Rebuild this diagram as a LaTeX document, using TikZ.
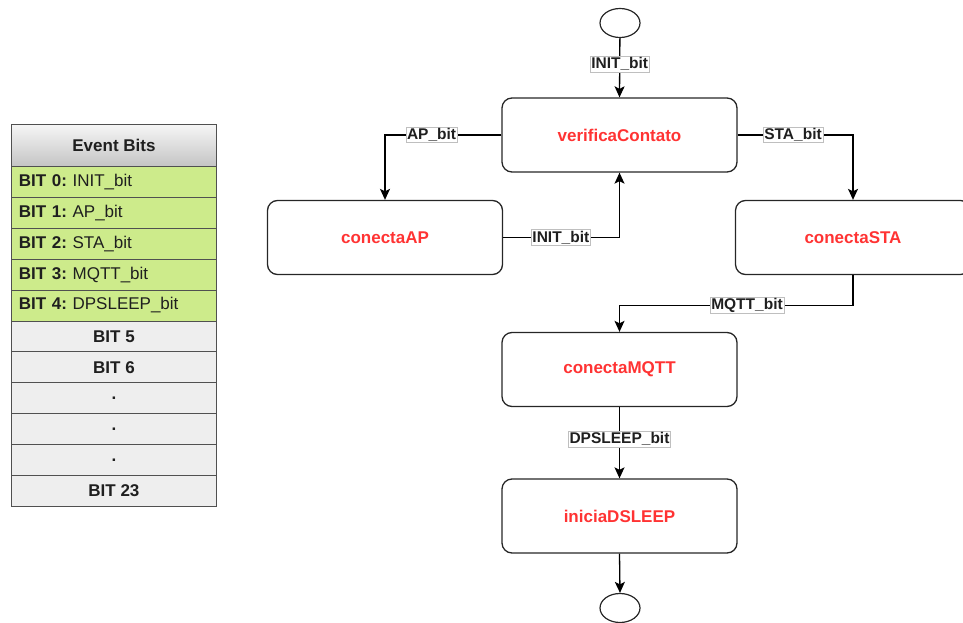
\documentclass[tikz,border=0pt]{standalone}
\usepackage{fontspec}
\setmainfont{Liberation Sans}
\usetikzlibrary{arrows.meta,shapes.geometric}

\definecolor{stateRed}{RGB}{255,51,51}
\definecolor{rowGreen}{RGB}{205,235,139}
\definecolor{rowGray}{RGB}{238,238,238}
\definecolor{cellLine}{RGB}{80,80,80}
\definecolor{headTop}{RGB}{246,246,246}
\definecolor{headBot}{RGB}{196,196,196}

\newcommand{\bitname}[2]{\textbf{#1}\hspace{5.5pt}#2}

\tikzset{
  state/.style={draw=black!85, line width=1.3pt, rounded corners=10pt,
    minimum width=235pt, minimum height=74pt,
    font=\bfseries\fontsize{17}{20}\selectfont, text=stateRed},
  terminal/.style={draw=black!85, line width=1.2pt, ellipse,
    minimum width=40pt, minimum height=29pt, inner sep=0pt},
  arr/.style={line width=1.3pt, draw=black,
    -{Stealth[length=11pt, width=10pt, inset=2.5pt]}},
  elabel/.style={draw=black!25, fill=white, line width=0.6pt,
    inner sep=1.2pt, text=black!88,
    font=\bfseries\fontsize{15.5}{17}\selectfont},
  cell/.style={draw=cellLine, line width=0.9pt, minimum width=205pt,
    minimum height=30.9pt, inner sep=0pt, anchor=north west,
    font=\fontsize{17}{20}\selectfont, text=black!88},
  bitrow/.style={cell, fill=rowGreen, align=left, text width=190pt},
  freerow/.style={cell, fill=rowGray, font=\bfseries\fontsize{17}{20}\selectfont},
}

\begin{document}
\begin{tikzpicture}[x=1pt, y=-1pt]
\useasboundingbox (0,0) rectangle (963,623);

% ---- event bit table ----
\node[draw=cellLine, line width=0.9pt, top color=headTop, bottom color=headBot,
  minimum width=205pt, minimum height=42pt, anchor=north west, inner sep=0pt,
  font=\bfseries\fontsize{17}{20}\selectfont, text=black!88]
  (hdr) at (11,124) {Event Bits};
\node[bitrow] (b0) at (11,166.0) {\bitname{BIT 0:}{INIT\_bit}};
\node[bitrow] (b1) at (11,196.9) {\bitname{BIT 1:}{AP\_bit}};
\node[bitrow] (b2) at (11,227.8) {\bitname{BIT 2:}{STA\_bit}};
\node[bitrow] (b3) at (11,258.7) {\bitname{BIT 3:}{MQTT\_bit}};
\node[bitrow] (b4) at (11,289.6) {\bitname{BIT 4:}{DPSLEEP\_bit}};
\node[freerow] (b5) at (11,320.5) {BIT 5};
\node[freerow] (b6) at (11,351.4) {BIT 6};
\node[freerow] (d1) at (11,382.3) {.};
\node[freerow] (d2) at (11,413.2) {.};
\node[freerow] (d3) at (11,444.1) {.};
\node[freerow] (b23) at (11,475.0) {BIT 23};

% ---- state machine ----
\node[terminal] (start) at (620,23) {};
\node[state] (verif) at (619.5,135) {verificaContato};
\node[state] (ap)    at (385,237.5) {conectaAP};
\node[state] (sta)   at (853,237.5) {conectaSTA};
\node[state] (mqtt)  at (619.5,369.5) {conectaMQTT};
\node[state] (sleep) at (619.5,516) {iniciaDSLEEP};
\node[terminal] (stop) at (620,608) {};

\draw[arr] (start) -- node[elabel, pos=0.44]{INIT\_bit} (verif.north);
\draw[arr] (verif.west) -| node[elabel, pos=0.3]{AP\_bit} (ap.north);
\draw[arr] (verif.east) -| node[elabel, pos=0.24]{STA\_bit} (sta.north);
\draw[arr] (ap.east) -| node[elabel, pos=0.248]{INIT\_bit} (verif.south);
\draw[arr] (sta.south) -- ++(0,30) -| node[elabel, pos=0.227]{MQTT\_bit} (mqtt.north);
\draw[arr] (mqtt.south) -- node[elabel, pos=0.45]{DPSLEEP\_bit} (sleep.north);
\draw[arr] (sleep.south) -- (stop.north);
\end{tikzpicture}
\end{document}
